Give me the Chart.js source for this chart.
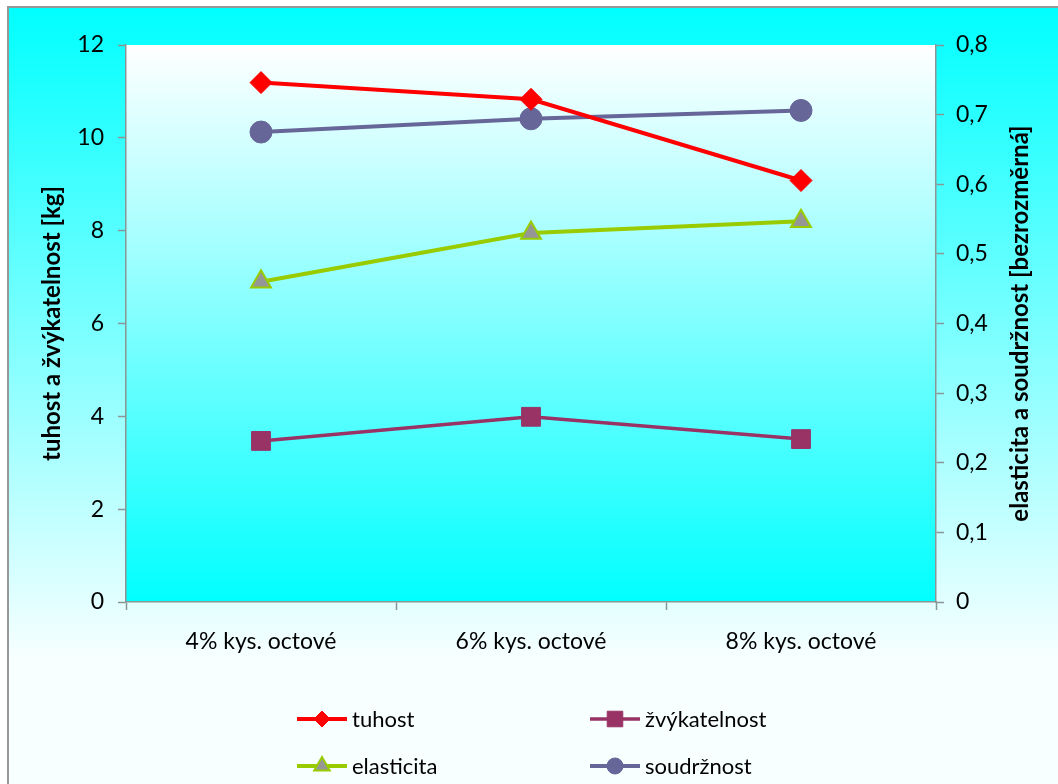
<!DOCTYPE html>
<html>
<head>
<meta charset="utf-8">
<script src="https://cdn.jsdelivr.net/npm/chart.js@4/dist/chart.umd.min.js"></script>
<style>
  html, body { margin: 0; padding: 0; background: #ffffff; }
  #wrap { width: 1058px; height: 784px; }
</style>
</head>
<body>
<div id="wrap"><canvas id="c" width="1058" height="784"></canvas></div>
<script>
// Categories (acetic acid concentration)
const categories = ['4% kys. octové', '6% kys. octové', '8% kys. octové'];

// Left axis series [kg]
const tuhost = [11.19, 10.83, 9.08];
const zvykatelnost = [3.47, 3.99, 3.51];

// Right axis series [dimensionless]
const elasticita = [0.46, 0.53, 0.547];
const soudrznost = [0.675, 0.694, 0.706];

// Axis ranges and titles
const leftTicks = { min: 0, max: 12, step: 2 };
const rightTicks = { min: 0, max: 0.8, step: 0.1 };
const leftTitle = 'tuhost a žvýkatelnost [kg]';
const rightTitle = 'elasticita a soudržnost [bezrozměrná]';

const FONT = 'Lato, "Open Sans", sans-serif';
const AXIS_GRAY = '#8a9696';

// Background of the whole chart and of the plot area, plus frame line
const backgroundPlugin = {
  id: 'backgrounds',
  beforeDraw(chart) {
    const { ctx, chartArea: a, width, height } = chart;
    ctx.save();
    const outer = ctx.createLinearGradient(0, 7, 0, 660);
    outer.addColorStop(0, '#00ffff');
    outer.addColorStop(1, '#f8ffff');
    ctx.fillStyle = outer;
    ctx.fillRect(8, 7, width, height);
    ctx.strokeStyle = '#979797';
    ctx.lineWidth = 2;
    ctx.strokeRect(8, 7, width + 10, height + 10);

    const inner = ctx.createLinearGradient(0, a.top, 0, a.bottom);
    inner.addColorStop(0, '#ffffff');
    inner.addColorStop(1, '#00ffff');
    ctx.fillStyle = inner;
    ctx.fillRect(a.left, a.top, a.right - a.left, a.bottom - a.top);
    ctx.restore();
  }
};

// Rotated axis titles, both reading bottom-to-top
const axisTitlePlugin = {
  id: 'axisTitles',
  afterDraw(chart) {
    const { ctx, chartArea: a } = chart;
    const cy = (a.top + a.bottom) / 2;
    ctx.save();
    ctx.fillStyle = '#000000';
    ctx.font = 'bold 24px ' + FONT;
    ctx.textAlign = 'center';
    ctx.textBaseline = 'middle';
    [[52, leftTitle], [1020, rightTitle]].forEach(([x, t]) => {
      ctx.save();
      ctx.translate(x, cy);
      ctx.rotate(-Math.PI / 2);
      ctx.fillText(t, 0, 0);
      ctx.restore();
    });
    ctx.restore();
  }
};

// Two-column legend below the plot
const legendPlugin = {
  id: 'twoColLegend',
  afterDraw(chart) {
    const { ctx } = chart;
    const slots = [
      { x: 297, y: 719 }, { x: 590, y: 719 },
      { x: 297, y: 766 }, { x: 590, y: 766 }
    ];
    const legendSizes = [8, 11, 9, 8];
    chart.data.datasets.forEach((ds, i) => {
      const s = slots[i];
      ctx.save();
      ctx.strokeStyle = ds.borderColor;
      ctx.lineWidth = ds.borderWidth;
      ctx.beginPath();
      ctx.moveTo(s.x, s.y);
      ctx.lineTo(s.x + 50, s.y);
      ctx.stroke();
      ctx.fillStyle = ds.pointBackgroundColor;
      ctx.strokeStyle = ds.pointBorderColor;
      ctx.lineWidth = ds.pointBorderWidth;
      Chart.helpers.drawPoint(ctx, {
        pointStyle: ds.pointStyle,
        radius: legendSizes[i],
        borderWidth: ds.pointBorderWidth,
        rotation: 0
      }, s.x + 25, s.y);
      ctx.fillStyle = '#000000';
      ctx.font = '22px ' + FONT;
      ctx.textAlign = 'left';
      ctx.textBaseline = 'middle';
      ctx.fillText(ds.label, s.x + 55, s.y + 1);
      ctx.restore();
    });
  }
};

const tickFont = { family: FONT, size: 23 };

new Chart(document.getElementById('c'), {
  type: 'line',
  data: {
    labels: categories,
    datasets: [
      {
        label: 'tuhost', data: tuhost, yAxisID: 'yL',
        borderColor: '#ff0000', borderWidth: 4,
        pointStyle: 'rectRot', pointRadius: 11,
        pointBackgroundColor: '#ff0000', pointBorderColor: '#ff0000', pointBorderWidth: 1
      },
      {
        label: 'žvýkatelnost', data: zvykatelnost, yAxisID: 'yL',
        borderColor: '#993366', borderWidth: 3.5,
        pointStyle: 'rect', pointRadius: 13.3,
        pointBackgroundColor: '#993366', pointBorderColor: '#993366', pointBorderWidth: 1
      },
      {
        label: 'elasticita', data: elasticita, yAxisID: 'yR',
        borderColor: '#99cc00', borderWidth: 4,
        pointStyle: 'triangle', pointRadius: 11.5,
        pointBackgroundColor: '#969696', pointBorderColor: '#99cc00', pointBorderWidth: 2
      },
      {
        label: 'soudržnost', data: soudrznost, yAxisID: 'yR',
        borderColor: '#666699', borderWidth: 4,
        pointStyle: 'circle', pointRadius: 11,
        pointBackgroundColor: '#666699', pointBorderColor: '#666699', pointBorderWidth: 1
      }
    ]
  },
  options: {
    responsive: false,
    animation: false,
    layout: { padding: { top: 45, left: 0, right: 0, bottom: 0 } },
    plugins: { legend: { display: false }, tooltip: { enabled: false } },
    elements: { line: { tension: 0 } },
    scales: {
      x: {
        offset: true,
        grid: { offset: true, drawOnChartArea: false, color: AXIS_GRAY, tickLength: 8, tickWidth: 1.5 },
        border: { color: AXIS_GRAY, width: 1.5 },
        ticks: { font: tickFont, color: '#000000', padding: 18, maxRotation: 0 },
        afterFit(scale) { scale.height = 182; }
      },
      yL: {
        position: 'left',
        min: leftTicks.min, max: leftTicks.max,
        grid: { drawOnChartArea: false, color: AXIS_GRAY, tickLength: 8, tickWidth: 1.5 },
        border: { color: AXIS_GRAY, width: 1.5 },
        ticks: { stepSize: leftTicks.step, font: tickFont, color: '#000000', padding: 14 },
        afterFit(scale) { scale.width = 126; }
      },
      yR: {
        position: 'right',
        min: rightTicks.min, max: rightTicks.max,
        grid: { drawOnChartArea: false, color: AXIS_GRAY, tickLength: 8, tickWidth: 1.5 },
        border: { color: AXIS_GRAY, width: 1.5 },
        ticks: {
          stepSize: rightTicks.step, font: tickFont, color: '#000000', padding: 12,
          callback: v => (Math.abs(v) < 1e-9 ? '0' : (Math.round(v * 10) / 10).toFixed(1).replace('.', ','))
        },
        afterFit(scale) { scale.width = 122; }
      }
    }
  },
  plugins: [backgroundPlugin, axisTitlePlugin, legendPlugin]
});
</script>
</body>
</html>
